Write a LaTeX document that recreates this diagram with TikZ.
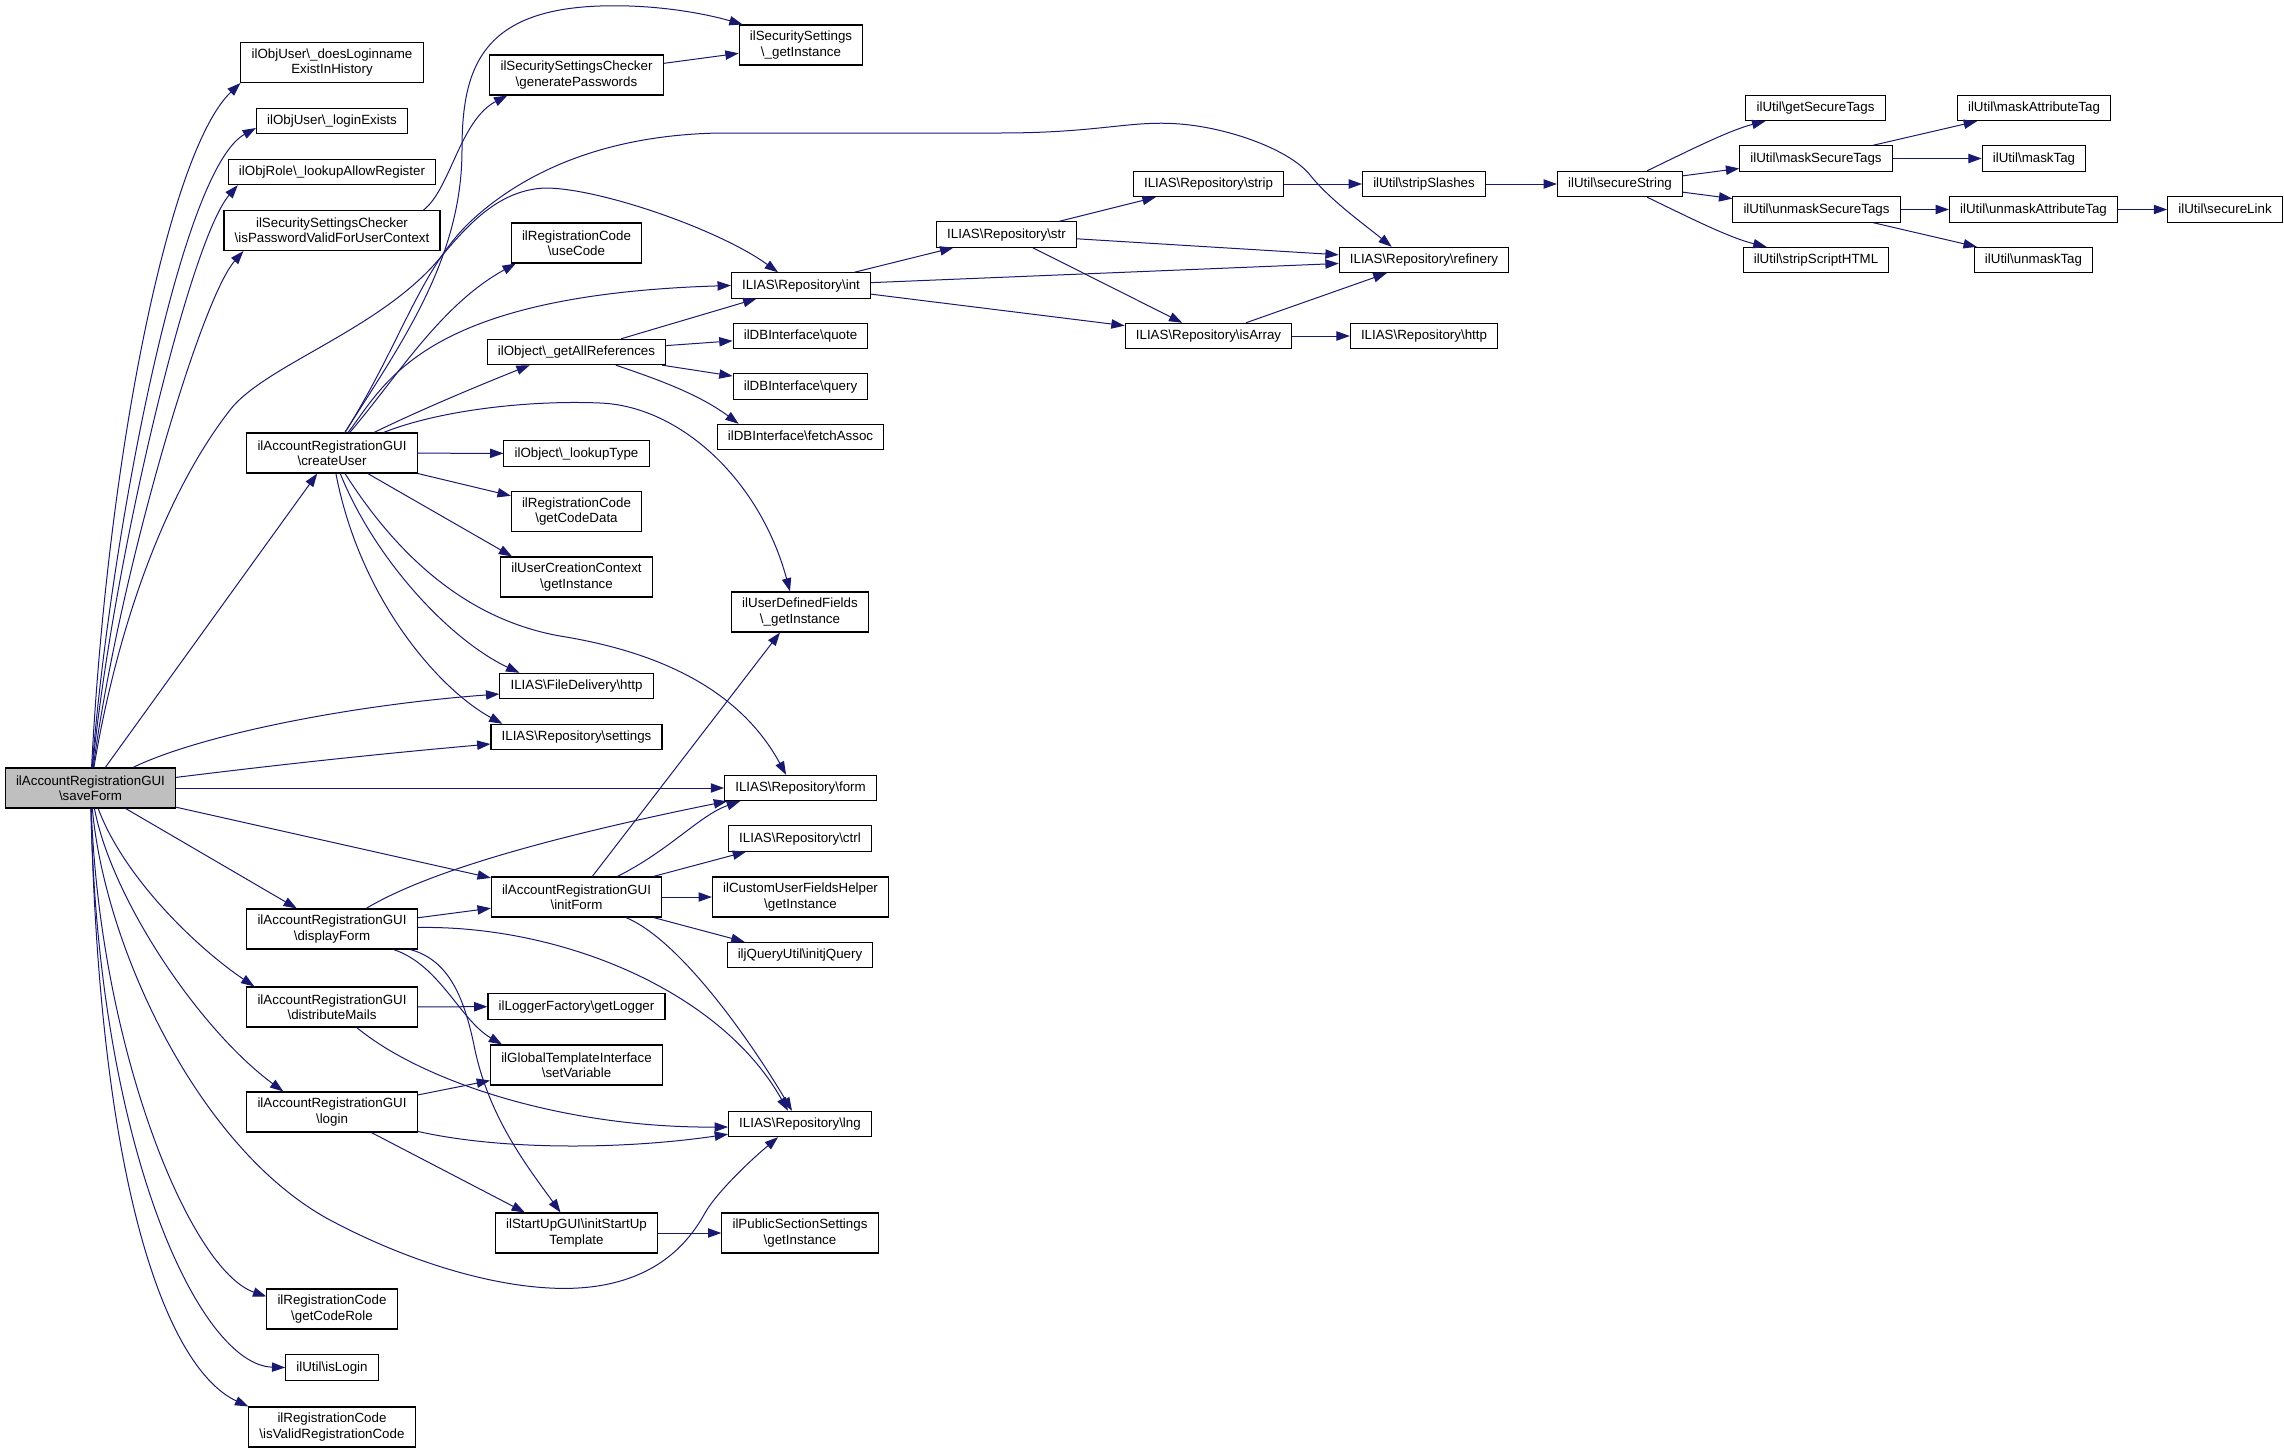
\documentclass[tikz,border=0pt]{standalone}
\usepackage{fontspec}
\setmainfont{Liberation Sans}
\usetikzlibrary{arrows.meta}

\definecolor{edgeblue}{HTML}{191970}
\newcommand*{\bsl}{\textbackslash}

\tikzset{
  boxbase/.style={draw=black, line width=0.8pt, fill=white, inner xsep=8pt, inner ysep=0pt,
    font=\fontsize{10}{11.5}\selectfont},
  callbox/.style={boxbase, minimum height=19pt, text height=7.5pt, text depth=2.2pt},
  callboxii/.style={boxbase, minimum height=30pt, align=center},
  rootbox/.style={callboxii, fill=gray!50},
  calls/.style={draw=edgeblue, line width=0.75pt, -{Triangle[length=10pt,width=7pt]}},
}

\begin{document}
\begin{tikzpicture}[x=0.75pt,y=-0.75pt]
  \useasboundingbox (0,0) rectangle (2284,1453);

  % caller
  \node[rootbox] (saveForm) at (90.5,788) {ilAccountRegistrationGUI\\\bsl saveForm};

  % second column
  \node[callboxii] (doesLogin)   at (332,62.5)  {ilObjUser\bsl\_doesLoginname\\ExistInHistory};
  \node[callbox]   (loginExists) at (332,121)   {ilObjUser\bsl\_loginExists};
  \node[callbox]   (lookupAllow) at (332,172)   {ilObjRole\bsl\_lookupAllowRegister};
  \node[callboxii] (isPassword)  at (332,230.5) {ilSecuritySettingsChecker\\\bsl isPasswordValidForUserContext};
  \node[callboxii] (createUser)  at (332,453)   {ilAccountRegistrationGUI\\\bsl createUser};
  \node[callboxii] (displayForm) at (332,929)   {ilAccountRegistrationGUI\\\bsl displayForm};
  \node[callboxii] (distributeMails) at (332,1007) {ilAccountRegistrationGUI\\\bsl distributeMails};
  \node[callboxii] (login)       at (332,1112)  {ilAccountRegistrationGUI\\\bsl login};
  \node[callboxii] (getCodeRole) at (332,1309)  {ilRegistrationCode\\\bsl getCodeRole};
  \node[callbox]   (isLogin)     at (332,1367.5) {ilUtil\bsl isLogin};
  \node[callboxii] (isValid)     at (332,1427)  {ilRegistrationCode\\\bsl isValidRegistrationCode};

  % third column
  \node[callboxii] (generatePw)  at (576.5,75)   {ilSecuritySettingsChecker\\\bsl generatePasswords};
  \node[callboxii] (useCode)     at (576.5,243)  {ilRegistrationCode\\\bsl useCode};
  \node[callbox]   (getAllRef)   at (576.5,352)  {ilObject\bsl\_getAllReferences};
  \node[callbox]   (lookupType)  at (576.5,453.5) {ilObject\bsl\_lookupType};
  \node[callboxii] (getCodeData) at (576.5,511.5) {ilRegistrationCode\\\bsl getCodeData};
  \node[callboxii] (uccInst)     at (576.5,577)  {ilUserCreationContext\\\bsl getInstance};
  \node[callbox]   (fdHttp)      at (576.5,686)  {ILIAS\bsl FileDelivery\bsl http};
  \node[callbox]   (settings)    at (576.5,737)  {ILIAS\bsl Repository\bsl settings};
  \node[callboxii] (initForm)    at (576.5,897)  {ilAccountRegistrationGUI\\\bsl initForm};
  \node[callbox]   (getLogger)   at (576.5,1006.5) {ilLoggerFactory\bsl getLogger};
  \node[callboxii] (setVariable) at (576.5,1065) {ilGlobalTemplateInterface\\\bsl setVariable};
  \node[callboxii] (initStartUp) at (576.5,1233) {ilStartUpGUI\bsl initStartUp\\Template};

  % fourth column
  \node[callboxii] (ssInst)      at (801,45)     {ilSecuritySettings\\\bsl\_getInstance};
  \node[callbox]   (int)         at (801,285.5)  {ILIAS\bsl Repository\bsl int};
  \node[callbox]   (quote)       at (800.5,336)  {ilDBInterface\bsl quote};
  \node[callbox]   (query)       at (800.5,386.5) {ilDBInterface\bsl query};
  \node[callbox]   (fetchAssoc)  at (800.5,437)  {ilDBInterface\bsl fetchAssoc};
  \node[callboxii] (udfInst)     at (800,612)    {ilUserDefinedFields\\\bsl\_getInstance};
  \node[callbox]   (form)        at (800.5,788)  {ILIAS\bsl Repository\bsl form};
  \node[callbox]   (ctrl)        at (800,838.5)  {ILIAS\bsl Repository\bsl ctrl};
  \node[callboxii] (cufhInst)    at (800.5,897)  {ilCustomUserFieldsHelper\\\bsl getInstance};
  \node[callbox]   (initjQuery)  at (800,955)    {iljQueryUtil\bsl initjQuery};
  \node[callbox]   (lng)         at (800,1124)   {ILIAS\bsl Repository\bsl lng};
  \node[callboxii] (pssInst)     at (800,1233)   {ilPublicSectionSettings\\\bsl getInstance};

  % right part
  \node[callbox] (str)          at (1006.5,234.5) {ILIAS\bsl Repository\bsl str};
  \node[callbox] (strip)        at (1208.5,184)   {ILIAS\bsl Repository\bsl strip};
  \node[callbox] (isArray)      at (1208.5,336)   {ILIAS\bsl Repository\bsl isArray};
  \node[callbox] (stripSlashes) at (1424,184)     {ilUtil\bsl stripSlashes};
  \node[callbox] (refinery)     at (1424,260)     {ILIAS\bsl Repository\bsl refinery};
  \node[callbox] (http)         at (1424,336)     {ILIAS\bsl Repository\bsl http};
  \node[callbox] (secureString) at (1620,184)     {ilUtil\bsl secureString};
  \node[callbox] (getSecureTags)    at (1815.5,108) {ilUtil\bsl getSecureTags};
  \node[callbox] (maskSecureTags)   at (1816,158.5) {ilUtil\bsl maskSecureTags};
  \node[callbox] (unmaskSecureTags) at (1816.5,209.5) {ilUtil\bsl unmaskSecureTags};
  \node[callbox] (stripScriptHTML)  at (1816,260)   {ilUtil\bsl stripScriptHTML};
  \node[callbox] (maskAttributeTag)   at (2034,108)   {ilUtil\bsl maskAttributeTag};
  \node[callbox] (maskTag)            at (2034,158.5) {ilUtil\bsl maskTag};
  \node[callbox] (unmaskAttributeTag) at (2033.5,209.5) {ilUtil\bsl unmaskAttributeTag};
  \node[callbox] (unmaskTag)          at (2033.5,260) {ilUtil\bsl unmaskTag};
  \node[callbox] (secureLink)         at (2225,209.5) {ilUtil\bsl secureLink};

  % calls of saveForm
  \draw[calls] (saveForm) .. controls (108,450) and (170,150) .. (doesLogin.south west);
  \draw[calls] (saveForm) .. controls (110,540) and (180,170) .. ([shift={(0,7)}]loginExists.west);
  \draw[calls] (saveForm) .. controls (113,560) and (190,240) .. ([shift={(10,0)}]lookupAllow.south west);
  \draw[calls] (saveForm) .. controls (118,580) and (200,300) .. ([shift={(20,0)}]isPassword.south west);
  \draw[calls] (saveForm) -- (createUser);
  \draw[calls] (saveForm) .. controls (115,640) and (160,500) .. (230,410)
    .. controls (265,365) and (380,330) .. (440,258) .. controls (470,222) and (500,190) .. (545,188)
    .. controls (600,188) and (720,230) .. ([shift={(-23,0)}]int.north);
  \draw[calls] (saveForm) .. controls (200,735) and (350,705) .. ([shift={(0,8)}]fdHttp.west);
  \draw[calls] (saveForm) .. controls (300,762) and (400,752) .. ([shift={(0,7)}]settings.west);
  \draw[calls] (saveForm) -- (form);
  \draw[calls] (saveForm) -- (initForm);
  \draw[calls] (saveForm) -- (displayForm);
  \draw[calls] (saveForm) .. controls (125,880) and (200,950) .. ([shift={(8,0)}]distributeMails.north west);
  \draw[calls] (saveForm) .. controls (112,900) and (200,1030) .. ([shift={(37,0)}]login.north west);
  \draw[calls] (saveForm) .. controls (105,950) and (200,1150) .. (330,1220)
    .. controls (420,1268) and (520,1295) .. (590,1287) .. controls (660,1279) and (690,1240) .. (705,1213)
    .. controls (715,1195) and (745,1165) .. ([shift={(50,0)}]lng.south west);
  \draw[calls] (saveForm) .. controls (100,1050) and (190,1270) .. ([shift={(0,8)}]getCodeRole.north west);
  \draw[calls] (saveForm) .. controls (98,1150) and (200,1365) .. (isLogin.west);
  \draw[calls] (saveForm) .. controls (100,1200) and (170,1370) .. (isValid.north west);

  % calls of createUser
  \draw[calls] (createUser) .. controls (400,345) and (462,260) .. (462,150)
    .. controls (462,70) and (480,10) .. (600,6) .. controls (660,4) and (710,15) .. ([shift={(4,0)}]ssInst.north west);
  \draw[calls] (createUser) .. controls (400,345) and (420,270) .. (470,222)
    .. controls (520,175) and (600,135) .. (720,133) -- (1000,133)
    .. controls (1100,133) and (1130,120) .. (1180,124) .. controls (1230,128) and (1290,150) .. (1310,175)
    .. controls (1330,200) and (1365,225) .. ([shift={(53,0)}]refinery.north west);
  \draw[calls] (createUser) .. controls (395,380) and (440,305) .. ([shift={(5,0)}]useCode.south west);
  \draw[calls] (createUser) .. controls (385,385) and (420,295) .. (int.west);
  \draw[calls] (createUser) .. controls (420,410) and (480,385) .. ([shift={(43,0)}]getAllRef.south west);
  \draw[calls] (createUser) -- (lookupType);
  \draw[calls] (createUser) -- (getCodeData);
  \draw[calls] (createUser) -- ([shift={(12,0)}]uccInst.north west);
  \draw[calls] (createUser) .. controls (375,560) and (450,640) .. ([shift={(20,0)}]fdHttp.north west);
  \draw[calls] (createUser) .. controls (360,600) and (440,690) .. ([shift={(12,0)}]settings.north west);
  \draw[calls] (createUser) .. controls (400,560) and (470,620) .. (560,636)
    .. controls (660,652) and (740,690) .. ([shift={(62,0)}]form.north west);
  \draw[calls] (createUser) .. controls (440,410) and (530,400) .. (600,403)
    .. controls (680,406) and (760,480) .. ([shift={(-10,0)}]udfInst.north);

  \draw[calls] ([shift={(-17,0)}]isPassword.north east) .. controls (450,190) and (460,120) .. ([shift={(18,0)}]generatePw.south west);
  \draw[calls] (generatePw) -- (ssInst);

  % getAllReferences, int, str
  \draw[calls] (getAllRef) -- (int);
  \draw[calls] (getAllRef) -- (quote);
  \draw[calls] (getAllRef) -- (query);
  \draw[calls] (getAllRef) .. controls (660,380) and (700,395) .. ([shift={(22,0)}]fetchAssoc.north west);
  \draw[calls] (int) -- (str);
  \draw[calls] (int) -- (refinery);
  \draw[calls] (int) -- (isArray);
  \draw[calls] (str) -- (strip);
  \draw[calls] (str) -- (refinery);
  \draw[calls] (str) -- (isArray);
  \draw[calls] (isArray) -- (refinery);
  \draw[calls] (isArray) -- (http);
  \draw[calls] (strip) -- (stripSlashes);
  \draw[calls] (stripSlashes) -- (secureString);

  % ilUtil
  \draw[calls] (secureString) .. controls (1690,150) and (1730,130) .. ([shift={(20,0)}]getSecureTags.south west);
  \draw[calls] (secureString) -- (maskSecureTags);
  \draw[calls] (secureString) -- (unmaskSecureTags);
  \draw[calls] (secureString) .. controls (1690,218) and (1730,238) .. ([shift={(24,0)}]stripScriptHTML.north west);
  \draw[calls] (maskSecureTags) -- (maskAttributeTag);
  \draw[calls] (maskSecureTags) -- (maskTag);
  \draw[calls] (unmaskSecureTags) -- (unmaskAttributeTag);
  \draw[calls] (unmaskSecureTags) -- (unmaskTag);
  \draw[calls] (unmaskAttributeTag) -- (secureLink);

  % displayForm, distributeMails, login
  \draw[calls] (displayForm) .. controls (430,870) and (560,835) .. ([shift={(3,0)}]form.south west);
  \draw[calls] (displayForm) -- (initForm);
  \draw[calls] (displayForm) .. controls (560,925) and (720,990) .. ([shift={(-12,0)}]lng.north);
  \draw[calls] (displayForm) .. controls (440,965) and (460,1020) .. ([shift={(12,0)}]setVariable.north west);
  \draw[calls] (displayForm) .. controls (450,960) and (465,1000) .. (475,1050)
    .. controls (490,1120) and (530,1170) .. ([shift={(-16,0)}]initStartUp.north);
  \draw[calls] (distributeMails) -- (getLogger);
  \draw[calls] (distributeMails) .. controls (420,1080) and (560,1128) .. ([shift={(0,3)}]lng.west);
  \draw[calls] (login) -- ([shift={(0,-5)}]setVariable.south west);
  \draw[calls] (login) .. controls (500,1150) and (620,1150) .. ([shift={(0,-3)}]lng.south west);
  \draw[calls] (login) -- ([shift={(30,0)}]initStartUp.north west);
  \draw[calls] (initStartUp) -- (pssInst);

  % initForm
  \draw[calls] (initForm) -- ([shift={(-20,0)}]udfInst.south);
  \draw[calls] (initForm) .. controls (670,850) and (700,815) .. ([shift={(16,0)}]form.south west);
  \draw[calls] (initForm) -- ([shift={(18,0)}]ctrl.south west);
  \draw[calls] (initForm) -- (cufhInst);
  \draw[calls] (initForm) -- ([shift={(18,0)}]initjQuery.north west);
  \draw[calls] (initForm) .. controls (680,940) and (750,1040) .. ([shift={(-8,0)}]lng.north);
\end{tikzpicture}
\end{document}
